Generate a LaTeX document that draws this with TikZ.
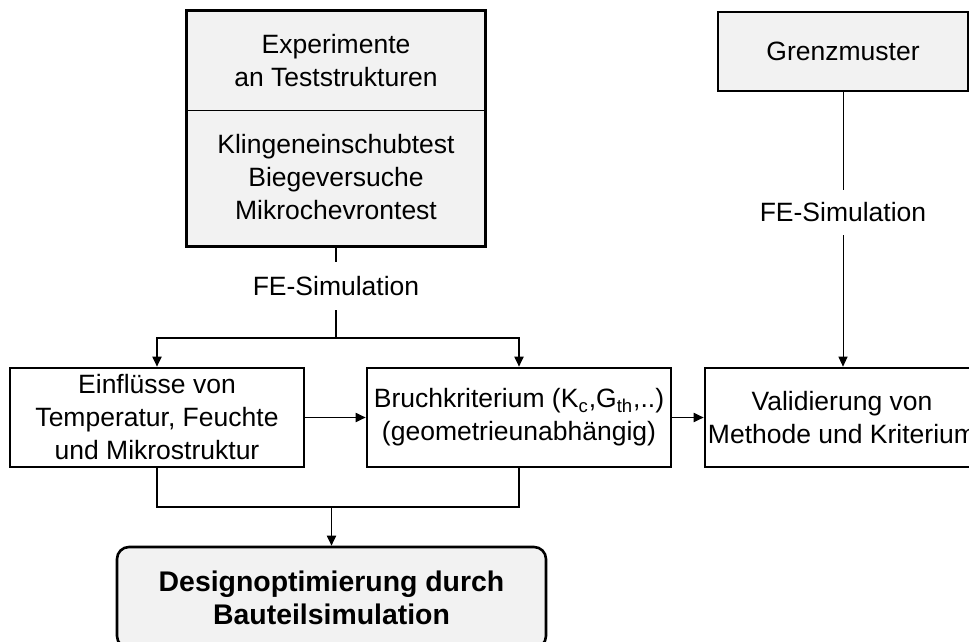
\documentclass[tikz,border=0pt]{standalone}
\usepackage{fontspec}
\setmainfont{Liberation Sans}
\usetikzlibrary{arrows.meta}
\definecolor{boxgray}{RGB}{242,242,242}

\begin{document}
\begin{tikzpicture}[x=0.5pt,y=-0.5pt]

	\tikzset{
	  block/.style={
		draw,
		line width=1.3pt,
		inner sep=0pt,
		align=center,
		font=\fontsize{13.25}{16.5}\selectfont,
	  },
	  greyblock/.style={block,fill=boxgray},
	  simlabel/.style={inner sep=0pt,font=\fontsize{13.25}{16.5}\selectfont},
	  conn/.style={line width=0.9pt},
	  thinconn/.style={line width=0.5pt},
	  arr/.style={-{Triangle[length=5pt,width=4.5pt]}},
	}
	\useasboundingbox (0,0) rectangle (969,642);
	\clip (0,0) rectangle (969,642);

	\node[greyblock,draw=none,minimum width=148pt,minimum height=48.5pt] (exphead) at (336,60.5) {Experimente\\an Teststrukturen};
	\node[greyblock,draw=none,minimum width=148pt,minimum height=68pt] (explist) at (336,177) {Klingeneinschubtest\\Biegeversuche\\Mikrochevrontest};
	\draw[line width=1.3pt] (exphead.north west) rectangle (explist.south east);
	\draw[thinconn] (exphead.south west) -- (exphead.south east);
	\node[greyblock,minimum width=125pt,minimum height=39.5pt] (grenz) at (843,51.5) {Grenzmuster};

	\node[simlabel,minimum height=24pt] (fesimL) at (336,286) {FE-Simulation};
	\node[simlabel,minimum height=22.5pt] (fesimR) at (843,212.5) {FE-Simulation};
	\coordinate (split) at (336,338);
	\coordinate (merge) at (331.5,507);

	\node[block,minimum width=147pt,minimum height=49.5pt] (einf) at (157,417.5) {Einflüsse von\\Temperatur, Feuchte\\und Mikrostruktur};
	\node[block,minimum width=152pt,minimum height=49.5pt] (bruch) at (519,417.5) {Bruchkriterium (K\textsubscript{c},G\textsubscript{th},..)\\(geometrieunabhängig)};
	\node[block,minimum width=137pt,minimum height=49.5pt] (valid) at (842,417.5) {Validierung von\\Methode und Kriterium};
	\node[greyblock,rounded corners=6pt,minimum width=214.5pt,minimum height=50.5pt,font=\bfseries\fontsize{14.2}{16.5}\selectfont] (design) at (331.5,597.5) {Designoptimierung durch\\Bauteilsimulation};

	\draw[conn] (explist.south) -- (fesimL.north);
	\draw[conn] (fesimL.south) -- (split);
	\draw[conn,arr] (split) -| (einf.north);
	\draw[conn,arr] (split) -| (bruch.north);
	\draw[conn,arr] (einf) -- (bruch);
	\draw[conn,arr] (bruch) -- (valid);
	\draw[thinconn] (grenz.south) -- (fesimR.north);
	\draw[thinconn,arr] (fesimR.south) -- (fesimR.south |- valid.north);
	\draw[conn] (einf.south) |- (merge) -| (bruch.south);
	\draw[conn,arr] (merge) -- (design.north);

\end{tikzpicture}
\end{document}
